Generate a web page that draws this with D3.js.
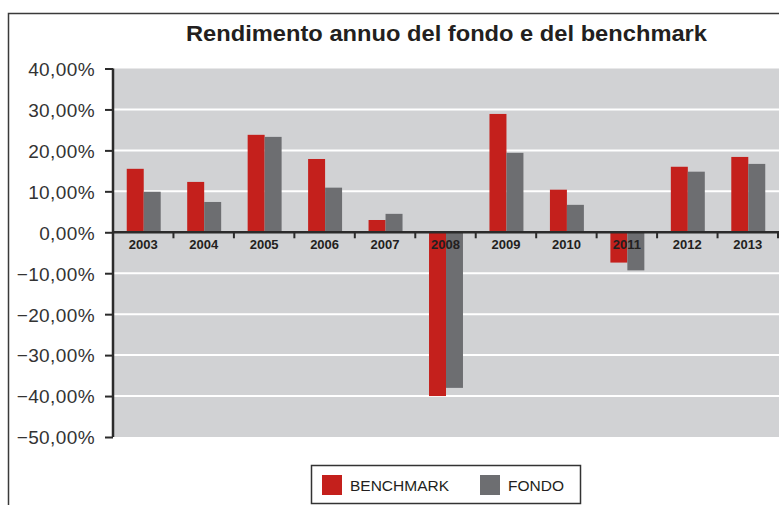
<!DOCTYPE html>
<html>
<head>
<meta charset="utf-8">
<script src="https://cdn.jsdelivr.net/npm/d3@7"></script>
<style>
  body { margin: 0; background: #fff; }
  svg { display: block; font-family: "Liberation Sans", Arial, sans-serif; }
</style>
</head>
<body>
<svg id="chart" width="779" height="505"></svg>
<script>
// Chart data
var years = ['2003', '2004', '2005', '2006', '2007', '2008', '2009', '2010', '2011', '2012', '2013'];
var benchmark = [15.5, 12.3, 23.8, 17.9, 3.0, -40.0, 28.9, 10.4, -7.4, 16.0, 18.4];
var fondo = [9.9, 7.4, 23.3, 10.9, 4.5, -38.0, 19.4, 6.7, -9.3, 14.8, 16.7];
var yTicks = [40, 30, 20, 10, 0, -10, -20, -30, -40, -50];
var seriesNames = ['BENCHMARK', 'FONDO'];
var seriesColors = ['#c4201c', '#6d6e71'];

var svg = d3.select('#chart');

// Plot area
var plot = { left: 113, right: 778, top: 68.5, bottom: 437 };

// Outer frame (right and bottom edges fall outside the picture)
svg.append('rect')
    .attr('x', 8.5).attr('y', 13.5)
    .attr('width', 800).attr('height', 520)
    .attr('fill', 'none')
    .attr('stroke', '#3a3a3a')
    .attr('stroke-width', 1.5);

// Title
svg.append('text')
    .attr('x', 446.5)
    .attr('y', 40.5)
    .attr('text-anchor', 'middle')
    .attr('font-size', '22px')
    .attr('font-weight', 'bold')
    .attr('fill', '#231f20')
    .attr('textLength', 521)
    .attr('lengthAdjust', 'spacingAndGlyphs')
    .text('Rendimento annuo del fondo e del benchmark');

// Scales
var x = d3.scaleBand().domain(years).range([plot.left, plot.right]).paddingInner(0).paddingOuter(0);
var xs = d3.scaleBand().domain(seriesNames).range([0, x.bandwidth()]).paddingInner(0).paddingOuter(0.78);
var y = d3.scaleLinear().domain([-50, 40]).range([plot.bottom, plot.top]);

// Grey background
svg.append('rect')
    .attr('x', plot.left).attr('y', plot.top)
    .attr('width', 779 - plot.left).attr('height', plot.bottom - plot.top)
    .attr('fill', '#d1d2d4');

// White grid lines
svg.append('g')
    .selectAll('line')
    .data(yTicks.filter(function(d){ return d !== 0 && d !== -50 && d !== 40; }))
    .enter().append('line')
    .attr('x1', plot.left).attr('x2', 779)
    .attr('y1', function(d){ return y(d); })
    .attr('y2', function(d){ return y(d); })
    .attr('stroke', '#ffffff')
    .attr('stroke-width', 2);

// Bars
var series = [benchmark, fondo];
series.forEach(function(values, si){
    svg.append('g')
        .selectAll('rect')
        .data(values)
        .enter().append('rect')
        .attr('x', function(d, i){ return x(years[i]) + xs(seriesNames[si]) + 0.5; })
        .attr('y', function(d){ return y(Math.max(0, d)); })
        .attr('width', xs.bandwidth())
        .attr('height', function(d){ return Math.abs(y(d) - y(0)); })
        .attr('fill', seriesColors[si]);
});

// Y axis with percent labels
var yAxis = d3.axisLeft(y)
    .tickValues(yTicks)
    .tickSize(8)
    .tickPadding(10)
    .tickFormat(function(d){ return d3.format('.2f')(d).replace('.', ',') + '%'; });

var yg = svg.append('g')
    .attr('transform', 'translate(' + plot.left + ',0)')
    .call(yAxis);
yg.select('.domain').attr('stroke', '#2b2b2b').attr('stroke-width', 2.5)
    .attr('d', 'M0,' + plot.top + 'V' + plot.bottom);
yg.selectAll('.tick line').attr('stroke', '#2b2b2b').attr('stroke-width', 2);
yg.selectAll('.tick text')
    .attr('font-size', '19px')
    .attr('letter-spacing', '0.4px')
    .attr('fill', '#333333')
    .attr('dy', '0.36em');

// X axis on the zero line with ticks at category boundaries
var xg = svg.append('g')
    .attr('transform', 'translate(0,' + y(0) + ')');
xg.append('line')
    .attr('x1', plot.left).attr('x2', 779)
    .attr('y1', 0).attr('y2', 0)
    .attr('stroke', '#2b2b2b')
    .attr('stroke-width', 2.5);
xg.selectAll('.bound')
    .data(years.concat(['end']))
    .enter().append('line')
    .attr('class', 'bound')
    .attr('x1', function(d, i){ return i < years.length ? x(d) : plot.right; })
    .attr('x2', function(d, i){ return i < years.length ? x(d) : plot.right; })
    .attr('y1', 0).attr('y2', 6)
    .attr('stroke', '#2b2b2b')
    .attr('stroke-width', 2);
xg.selectAll('.ylab')
    .data(years)
    .enter().append('text')
    .attr('class', 'ylab')
    .attr('x', function(d){ return x(d) + x.bandwidth() / 2; })
    .attr('y', 17)
    .attr('text-anchor', 'middle')
    .attr('font-size', '13px')
    .attr('font-weight', 'bold')
    .attr('fill', '#231f20')
    .text(function(d){ return d; });

// Legend
var lg = svg.append('g');
lg.append('rect')
    .attr('x', 311.5).attr('y', 465.5)
    .attr('width', 269).attr('height', 38)
    .attr('fill', '#fff')
    .attr('stroke', '#333')
    .attr('stroke-width', 1.5);
var legendX = [322, 480];
seriesNames.forEach(function(name, i){
    lg.append('rect')
        .attr('x', legendX[i]).attr('y', 475)
        .attr('width', 20).attr('height', 20)
        .attr('fill', seriesColors[i]);
    lg.append('text')
        .attr('x', legendX[i] + 28)
        .attr('y', 491)
        .attr('font-size', '15.5px')
        .attr('fill', '#231f20')
        .text(name);
});
</script>
</body>
</html>
